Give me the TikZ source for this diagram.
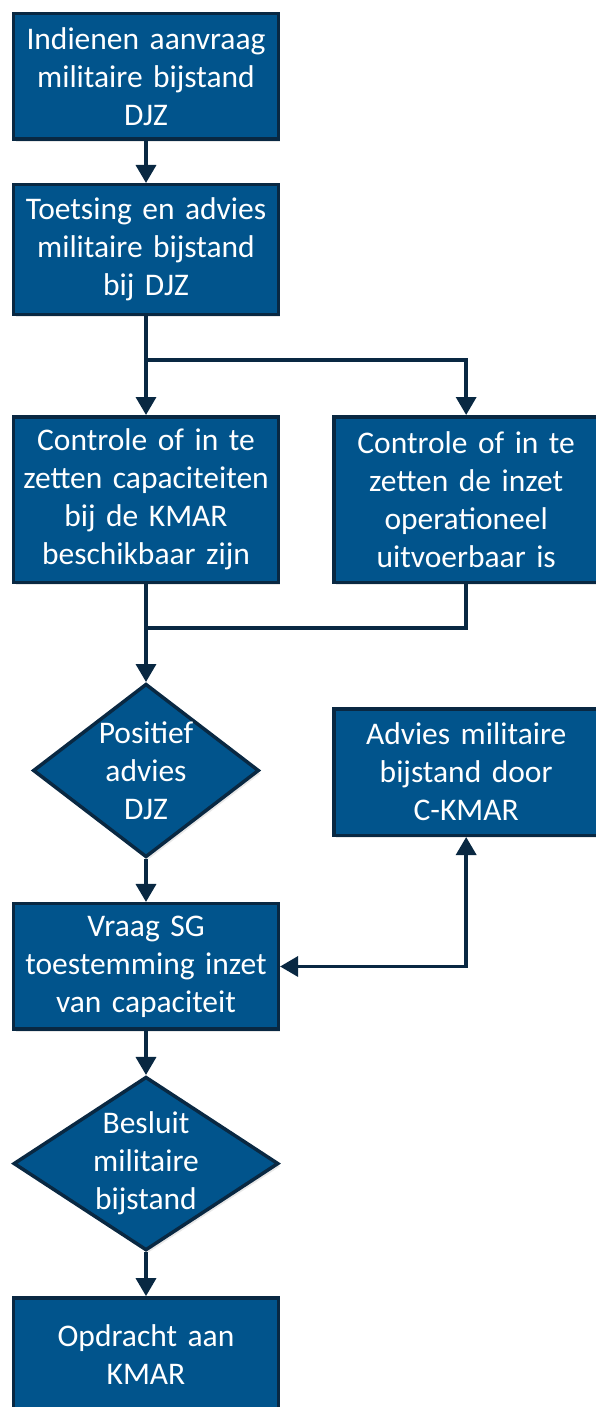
\documentclass[tikz,border=0pt]{standalone}
\usepackage{fontspec}
\setmainfont{Carlito}[WordSpace=0.75]
\usetikzlibrary{positioning, shapes.geometric, arrows.meta, shadows}

\definecolor{boxblue}{RGB}{1,84,140}
\definecolor{navy}{RGB}{9,40,66}

\begin{document}
\begin{tikzpicture}[
    x=1pt, y=1pt,
    >={Triangle[width=20pt, length=18pt]},
    box/.style={
        draw=navy,
        line width=3.5pt,
        fill=boxblue,
        text=white,
        minimum width=262.5pt,
        minimum height=125.5pt,
        text width=258pt,
        align=center,
        font=\fontsize{31.5}{38}\selectfont,
        drop shadow={shadow xshift=2pt, shadow yshift=-3pt, opacity=.18},
    },
    decision/.style={
        diamond,
        draw=navy,
        line width=3.5pt,
        fill=boxblue,
        text=white,
        inner sep=0pt,
        align=center,
        font=\fontsize{31.5}{38}\selectfont,
        drop shadow={shadow xshift=2pt, shadow yshift=-3pt, opacity=.18},
    },
    arrow/.style={
        ->,
        draw=navy,
        line width=3.5pt,
    },
    line/.style={
        draw=navy,
        line width=3.5pt,
    },
]

    \useasboundingbox (0,0) rectangle (595,-1407);

    \node[box] (indienen) at (146,-76.5) {Indienen aanvraag\\militaire bijstand\\DJZ};
    \node[box, below=42pt of indienen, minimum height=129.5pt] (toetsing) {Toetsing en advies\\militaire bijstand\\bij DJZ};
    \coordinate[below=44pt of toetsing] (split);
    \node[box, below=99pt of toetsing, minimum height=165.5pt] (controle) {Controle of in te\\zetten capaciteiten\\bij de KMAR\\beschikbaar zijn};
    \node[box, right=52pt of controle, minimum height=165.5pt] (uitvoerbaar) {Controle of in te\\zetten de inzet\\operationeel\\uitvoerbaar is};
    \coordinate[below=44pt of controle] (merge);
    \node[decision, below=98pt of controle, minimum width=226pt, minimum height=171pt, shape aspect=1.25] (positief) {Positief\\advies\\DJZ};
    \node[box, below=123pt of uitvoerbaar, minimum height=126.5pt] (advies) {Advies militaire\\bijstand door\\C-KMAR};
    \node[box, below=43pt of positief] (vraag) {Vraag SG\\toestemming inzet\\van capaciteit};
    \node[decision, below=44pt of vraag, minimum width=265pt, minimum height=171pt, shape aspect=1.5] (besluit) {Besluit\\militaire\\bijstand};
    \node[box, below=44pt of besluit, minimum height=113.5pt] (opdracht) {Opdracht aan\\KMAR};

    % Draw arrows
    \draw[arrow] (indienen) -- (toetsing);
    \draw[arrow] (toetsing) -- (controle);
    \draw[arrow] (split) -| (uitvoerbaar);
    \draw[line] (uitvoerbaar) |- (merge);
    \draw[arrow] (controle) -- (positief);
    \draw[arrow] (positief) -- (vraag);
    \draw[arrow, <->] (advies) |- (vraag);
    \draw[arrow] (vraag) -- (besluit);
    \draw[arrow] (besluit) -- (opdracht);

\end{tikzpicture}
\end{document}
